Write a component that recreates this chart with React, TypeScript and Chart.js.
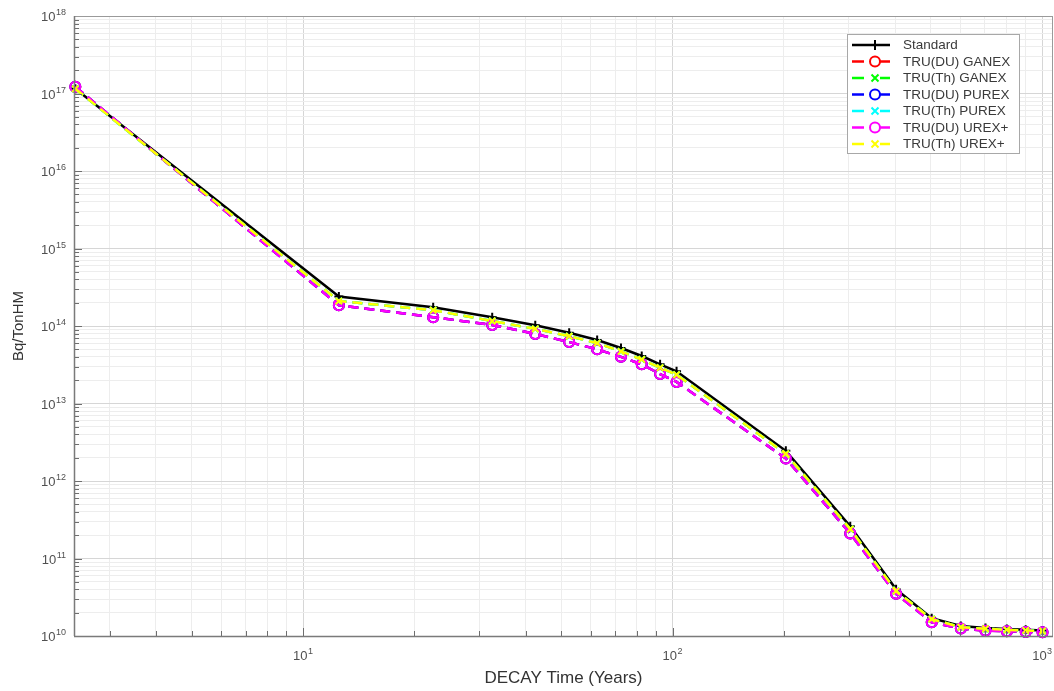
import React, { useEffect, useRef } from "react";
import { Chart, registerables } from "chart.js";

Chart.register(...registerables);

// ---- data ----
const times = [2.42, 12.5, 22.5, 32.5, 42.5, 52.5, 62.5, 72.5, 82.5, 92.5, 102.5, 202.5, 302.5, 402.5, 502.5, 602.5, 702.5, 802.5, 902.5, 1002.5];

const standard = [1.15e17, 2.4e14, 1.75e14, 1.3e14, 1.02e14, 8.2e13, 6.6e13, 5.2e13, 4.1e13, 3.2e13, 2.6e13, 2.45e12, 2.6e11, 4.0e10, 1.7e10, 1.35e10, 1.27e10, 1.23e10, 1.2e10, 1.18e10];
const truDuGanex = [1.22e17, 1.85e14, 1.3e14, 1.03e14, 7.9e13, 6.2e13, 5.0e13, 4.0e13, 3.2e13, 2.4e13, 1.9e13, 1.95e12, 2.1e11, 3.5e10, 1.5e10, 1.25e10, 1.17e10, 1.15e10, 1.13e10, 1.12e10];
const truThGanex = [1.15e17, 2.1e14, 1.6e14, 1.16e14, 9.2e13, 7.4e13, 6.0e13, 4.7e13, 3.7e13, 2.9e13, 2.35e13, 2.25e12, 2.4e11, 3.8e10, 1.65e10, 1.3e10, 1.24e10, 1.2e10, 1.18e10, 1.16e10];
const truDuPurex = [1.22e17, 1.85e14, 1.3e14, 1.03e14, 7.9e13, 6.2e13, 5.0e13, 4.0e13, 3.2e13, 2.4e13, 1.9e13, 1.95e12, 2.1e11, 3.5e10, 1.5e10, 1.25e10, 1.17e10, 1.15e10, 1.13e10, 1.12e10];
const truThPurex = [1.15e17, 2.1e14, 1.6e14, 1.16e14, 9.2e13, 7.4e13, 6.0e13, 4.7e13, 3.7e13, 2.9e13, 2.35e13, 2.25e12, 2.4e11, 3.8e10, 1.65e10, 1.3e10, 1.24e10, 1.2e10, 1.18e10, 1.16e10];
const truDuUrex = [1.22e17, 1.85e14, 1.3e14, 1.03e14, 7.9e13, 6.2e13, 5.0e13, 4.0e13, 3.2e13, 2.4e13, 1.9e13, 1.95e12, 2.1e11, 3.5e10, 1.5e10, 1.25e10, 1.17e10, 1.15e10, 1.13e10, 1.12e10];
const truThUrex = [1.15e17, 2.1e14, 1.6e14, 1.16e14, 9.2e13, 7.4e13, 6.0e13, 4.7e13, 3.7e13, 2.9e13, 2.35e13, 2.25e12, 2.4e11, 3.8e10, 1.65e10, 1.3e10, 1.24e10, 1.2e10, 1.18e10, 1.16e10];

const seriesNames = ["Standard", "TRU(DU) GANEX", "TRU(Th) GANEX", "TRU(DU) PUREX", "TRU(Th) PUREX", "TRU(DU) UREX+", "TRU(Th) UREX+"];
const seriesValues = [standard, truDuGanex, truThGanex, truDuPurex, truThPurex, truDuUrex, truThUrex];
const seriesColors = ["#000000", "#ff0000", "#00ff00", "#0000ff", "#00ffff", "#ff00ff", "#ffff00"];
const seriesMarkers = ["plus", "circle", "x", "circle", "x", "circle", "x"];

const X_MIN = 2.4;
const X_MAX = 1070;
const Y_MIN = 1e10;
const Y_MAX = 1e18;

const xTitle = "DECAY Time (Years)";
const yTitle = "Bq/TonHM";

const FONT = "'Liberation Sans', Arial, Helvetica, sans-serif";
const TICK_COLOR = "#505050";

function isPow10(v: number) {
  if (!(v > 0)) return false;
  const l = Math.log10(v);
  return Math.abs(l - Math.round(l)) < 1e-6;
}
function logTicks(min: number, max: number) {
  const out: { value: number }[] = [];
  const e0 = Math.floor(Math.log10(min));
  const e1 = Math.ceil(Math.log10(max));
  for (let e = e0; e <= e1; e++) {
    for (let m = 1; m <= 9; m++) {
      const v = m * Math.pow(10, e);
      if (v >= min * (1 - 1e-9) && v <= max * (1 + 1e-9)) out.push({ value: v });
    }
  }
  return out;
}

function drawPowLabel(ctx: CanvasRenderingContext2D, v: number, x: number, y: number, align: "right" | "center") {
  const e = String(Math.round(Math.log10(v)));
  const baseFont = `13px ${FONT}`;
  const supFont = `9px ${FONT}`;
  ctx.font = baseFont;
  const wb = ctx.measureText("10").width;
  ctx.font = supFont;
  const ws = ctx.measureText(e).width;
  const total = wb + ws + 0.5;
  const sx = align === "right" ? x - total : x - total / 2;
  ctx.fillStyle = TICK_COLOR;
  ctx.textAlign = "left";
  ctx.textBaseline = "alphabetic";
  ctx.font = baseFont;
  ctx.fillText("10", sx, y);
  ctx.font = supFont;
  ctx.fillText(e, sx + wb + 0.5, y - 6);
}

function drawMarker(ctx: CanvasRenderingContext2D, kind: string, x: number, y: number, color: string) {
  ctx.save();
  ctx.strokeStyle = color;
  ctx.lineWidth = 2;
  ctx.setLineDash([]);
  ctx.beginPath();
  if (kind === "circle") {
    ctx.arc(x, y, 5, 0, Math.PI * 2);
  } else if (kind === "plus") {
    ctx.moveTo(x - 4, y);
    ctx.lineTo(x + 4, y);
    ctx.moveTo(x, y - 5);
    ctx.lineTo(x, y + 5);
  } else {
    ctx.moveTo(x - 3.5, y - 3.5);
    ctx.lineTo(x + 3.5, y + 3.5);
    ctx.moveTo(x + 3.5, y - 3.5);
    ctx.lineTo(x - 3.5, y + 3.5);
  }
  ctx.stroke();
  ctx.restore();
}

const framePlugin = {
  id: "matlabFrame",
  afterDatasetsDraw(chart: any) {
    const { ctx, chartArea } = chart;
    const { left, right, top, bottom } = chartArea;
    ctx.save();
    ctx.strokeStyle = "#6e6e6e";
    ctx.lineWidth = 1;
    const xs = chart.scales.x;
    const ys = chart.scales.y;
    ctx.beginPath();
    xs.ticks.forEach((t: any) => {
      const px = Math.round(xs.getPixelForValue(t.value)) + 0.5;
      const len = isPow10(t.value) ? 8 : 5;
      ctx.moveTo(px, bottom);
      ctx.lineTo(px, bottom - len);
    });
    ys.ticks.forEach((t: any) => {
      const py = Math.round(ys.getPixelForValue(t.value)) + 0.5;
      const len = isPow10(t.value) ? 8 : 5;
      ctx.moveTo(left, py);
      ctx.lineTo(left + len, py);
    });
    ctx.stroke();
    ctx.strokeStyle = "#9a9a9a";
    ctx.strokeRect(Math.round(left) + 0.5, Math.round(top) + 0.5, Math.round(right - left) - 1, Math.round(bottom - top));
    ctx.strokeStyle = "#7a7a7a";
    ctx.lineWidth = 1.5;
    ctx.beginPath();
    ctx.moveTo(left, bottom + 0.5);
    ctx.lineTo(right, bottom + 0.5);
    ctx.moveTo(left + 0.5, top);
    ctx.lineTo(left + 0.5, bottom);
    ctx.stroke();

    xs.ticks.forEach((t: any) => {
      if (!isPow10(t.value)) return;
      drawPowLabel(ctx, t.value, xs.getPixelForValue(t.value), bottom + 24, "center");
    });
    ys.ticks.forEach((t: any) => {
      if (!isPow10(t.value)) return;
      drawPowLabel(ctx, t.value, left - 8, ys.getPixelForValue(t.value) + 5, "right");
    });
    ctx.restore();
  },
};

const legendPlugin = {
  id: "matlabLegend",
  afterDraw(chart: any) {
    const { ctx, chartArea } = chart;
    const w = 172;
    const h = 119;
    const x0 = chartArea.right - 206;
    const y0 = chartArea.top + 18;
    ctx.save();
    ctx.fillStyle = "#ffffff";
    ctx.fillRect(x0, y0, w, h);
    ctx.strokeStyle = "#a8a8a8";
    ctx.lineWidth = 1;
    ctx.strokeRect(x0 + 0.5, y0 + 0.5, w, h);
    ctx.font = `13.5px ${FONT}`;
    ctx.textBaseline = "middle";
    ctx.textAlign = "left";
    seriesNames.forEach((name, i) => {
      const y = y0 + 11 + i * 16.5;
      const color = seriesColors[i];
      const mx = x0 + 28;
      ctx.strokeStyle = color;
      ctx.lineWidth = 2.5;
      ctx.beginPath();
      if (i === 0) {
        ctx.moveTo(x0 + 5, y);
        ctx.lineTo(x0 + 43, y);
      } else {
        ctx.moveTo(x0 + 5, y);
        ctx.lineTo(x0 + 17, y);
        ctx.moveTo(x0 + 33, y);
        ctx.lineTo(x0 + 43, y);
      }
      ctx.stroke();
      drawMarker(ctx, seriesMarkers[i], mx, y, color);
      ctx.fillStyle = "#3a3a3a";
      ctx.fillText(name, x0 + 56, y + 0.5);
    });
    ctx.restore();
  },
};

export default function App() {
  const ref = useRef<HTMLCanvasElement>(null);

  useEffect(() => {
    document.body.style.margin = "0";
    const canvas = ref.current;
    if (!canvas) return;

    const datasets = seriesValues.map((vals, i) => {
      const marker = seriesMarkers[i];
      const color = seriesColors[i];
      return {
        label: seriesNames[i],
        data: times.map((t, j) => ({ x: t, y: vals[j] })),
        borderColor: color,
        backgroundColor: color,
        borderWidth: 2.5,
        borderDash: i === 0 ? [] : [10, 6],
        pointStyle: marker === "circle" ? "circle" : marker === "plus" ? "cross" : "crossRot",
        pointRadius: marker === "circle" ? 5 : 4.5,
        pointBorderWidth: 2,
        pointBorderColor: color,
        pointBackgroundColor: marker === "circle" ? "rgba(0,0,0,0)" : color,
        tension: 0,
        order: 6 - i,
        clip: 12,
      };
    });

    const chart = new Chart(canvas, {
      type: "line",
      data: { datasets } as any,
      options: {
        responsive: false,
        animation: false,
        devicePixelRatio: 1,
        layout: { autoPadding: false, padding: { top: 16, right: 1, left: 0, bottom: 0 } },
        plugins: {
          legend: { display: false },
          tooltip: { enabled: false },
        },
        scales: {
          x: {
            type: "logarithmic",
            min: X_MIN,
            max: X_MAX,
            afterBuildTicks: (scale: any) => {
              scale.ticks = logTicks(X_MIN, X_MAX);
            },
            afterFit: (scale: any) => {
              scale.height = 55;
            },
            grid: {
              drawTicks: false,
              color: (c: any) => (isPow10(c.tick?.value) ? "#d6d6d6" : "#ededed"),
              lineWidth: 1,
            },
            border: { display: false },
            ticks: { display: false, autoSkip: false },
            title: {
              display: true,
              text: xTitle,
              color: "#333333",
              font: { family: FONT, size: 17 },
              padding: { top: 0, bottom: 2 },
            },
          },
          y: {
            type: "logarithmic",
            min: Y_MIN,
            max: Y_MAX,
            afterBuildTicks: (scale: any) => {
              scale.ticks = logTicks(Y_MIN, Y_MAX);
            },
            afterFit: (scale: any) => {
              scale.width = 74;
            },
            grid: {
              drawTicks: false,
              color: (c: any) => (isPow10(c.tick?.value) ? "#d6d6d6" : "#ededed"),
              lineWidth: 1,
            },
            border: { display: false },
            ticks: { display: false, autoSkip: false },
            title: {
              display: true,
              text: yTitle,
              color: "#333333",
              font: { family: FONT, size: 15 },
              padding: { top: 10, bottom: 0 },
            },
          },
        },
      } as any,
      plugins: [framePlugin, legendPlugin],
    });

    return () => chart.destroy();
  }, []);

  return (
    <div style={{ width: 1054, height: 691, background: "#ffffff" }}>
      <canvas ref={ref} width={1054} height={691} style={{ display: "block" }} />
    </div>
  );
}
